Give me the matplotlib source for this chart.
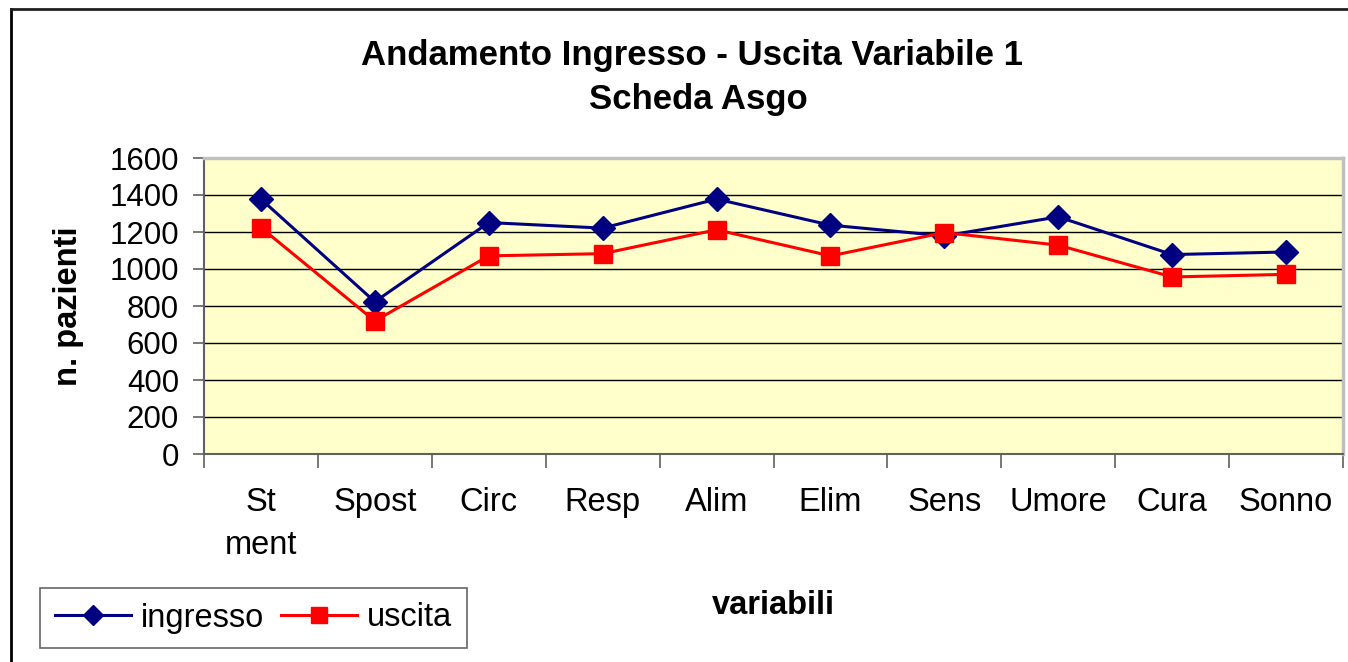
import matplotlib
matplotlib.use("Agg")
import matplotlib.pyplot as plt
from matplotlib.lines import Line2D

plt.rcParams['font.family'] = ['Liberation Sans', 'DejaVu Sans']

categories = ['St\nment', 'Spost', 'Circ', 'Resp', 'Alim', 'Elim', 'Sens', 'Umore', 'Cura', 'Sonno']
ingresso = [1378, 823, 1251, 1221, 1378, 1237, 1179, 1282, 1078, 1092]
uscita = [1224, 719, 1071, 1083, 1212, 1071, 1197, 1129, 957, 971]
y_ticks = [0, 200, 400, 600, 800, 1000, 1200, 1400, 1600]

fig = plt.figure(figsize=(13.48, 6.62), dpi=100)
ax = fig.add_axes([204/1348, 1-454/662, (1343-204)/1348, (454-158)/662])
ax.set_facecolor('#FFFFCC')

x = list(range(len(categories)))
ax.plot(x, ingresso, color='#000080', linewidth=2.2, marker='D', markersize=12, label='ingresso', zorder=3)
ax.plot(x, uscita, color='#FF0000', linewidth=2.2, marker='s', markersize=13, label='uscita', zorder=4)

ax.set_xlim(-0.5, len(categories) - 0.5)
ax.set_ylim(0, 1600)
ax.set_yticks(y_ticks)
ax.yaxis.grid(True, color='black', linewidth=1.0)
ax.set_axisbelow(True)

# category labels centred, tick marks on the boundaries
ax.set_xticks(x)
ax.set_xticklabels(categories, fontsize=23.5, linespacing=1.5, va='top')
ax.tick_params(axis='x', which='major', length=0, pad=24)
ax.set_xticks([i - 0.5 for i in range(len(categories) + 1)], minor=True)
ax.tick_params(axis='x', which='minor', length=10, width=1.2, color='#606060', direction='out')
ax.tick_params(axis='y', length=8, width=1.2, color='#606060', labelsize=22.5, pad=10)

for s in ['left', 'bottom']:
    ax.spines[s].set_color('#606060')
    ax.spines[s].set_linewidth(1.5)
for s in ['top', 'right']:
    ax.spines[s].set_color('#C0C0C0')
    ax.spines[s].set_linewidth(2.5)

ax.set_ylabel('n. pazienti', fontsize=23.5, fontweight='bold', labelpad=18)
fig.text(773/1348, 1-606/662, 'variabili', fontsize=23.5, fontweight='bold', ha='center', va='center')

fig.text(692/1348, 1-55/662, 'Andamento Ingresso - Uscita Variabile 1', fontsize=25,
         fontweight='bold', ha='center', va='center')
fig.text(698/1348, 1-100/662, 'Scheda Asgo', fontsize=25, fontweight='bold', ha='center', va='center')

leg = fig.legend(loc='center left', bbox_to_anchor=(40/1348, 1-618/662), ncol=2, fontsize=23.5,
                 frameon=True, fancybox=False, handlelength=2.35, handletextpad=0.3,
                 columnspacing=0.5, borderpad=0.45, borderaxespad=0, markerscale=0.85)
leg.get_frame().set_edgecolor('#404040')
leg.get_frame().set_linewidth(1.2)

# outer chart frame
fig.add_artist(Line2D([11/1348, 11/1348], [0, 1-9/662], color='black', linewidth=2, transform=fig.transFigure))
fig.add_artist(Line2D([11/1348, 1], [1-9/662, 1-9/662], color='#202020', linewidth=2, transform=fig.transFigure))

fig.savefig('out.png', dpi=100, facecolor='white')
